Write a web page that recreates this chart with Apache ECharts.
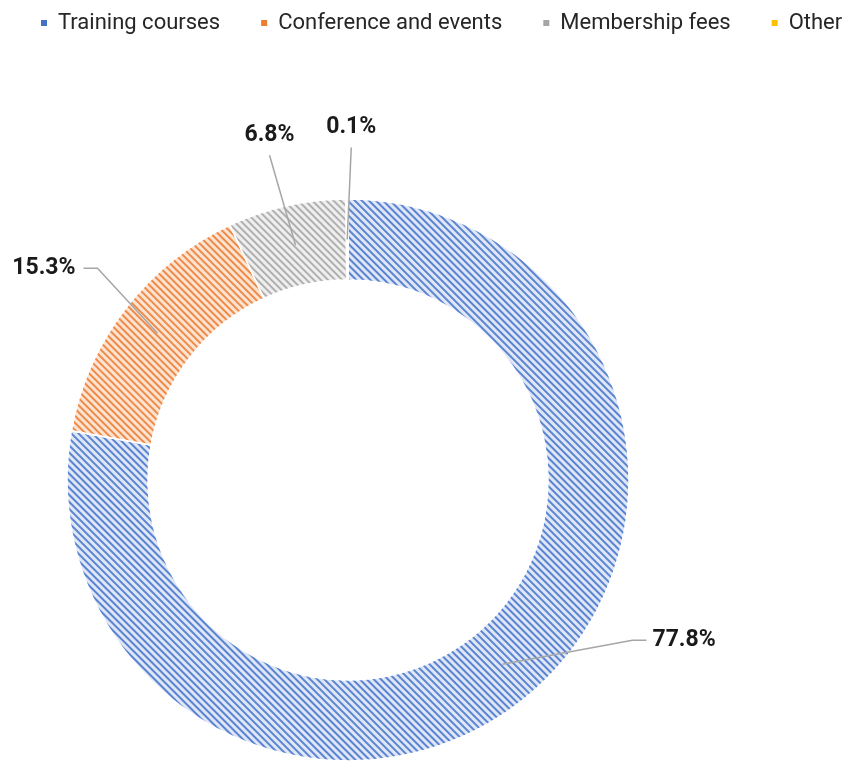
<!DOCTYPE html>
<html>
<head>
<meta charset="utf-8">
<script src="https://cdn.jsdelivr.net/npm/echarts@6/dist/echarts.min.js"></script>
<style>
  html, body { margin: 0; padding: 0; background: #fff; }
  #chart { width: 848px; height: 763px; }
</style>
</head>
<body>
<div id="chart"></div>
<script>
// data
const categories = ['Training courses', 'Conference and events', 'Membership fees', 'Other'];
const shares = [77.8, 15.3, 6.8, 0.1];

// colours: main tone (legend / stripes) and light background of the hatch
const mainColors = ['#4472C4', '#ED7D31', '#A5A5A5', '#FFC000'];
const stripeColors = ['#5a84d2', '#f08a48', '#b0b0b0', '#FFC000'];
const lightColors = ['#dfe7f6', '#fce4d3', '#efefef', '#ffe9a6'];

// ring geometry
const CX = 348, CY = 480;
const R_IN = 200, R_OUT = 281;
const R_MID = (R_IN + R_OUT) / 2;

// where each label sits relative to its slice anchor, and how the leader bends
const labelPlace = [
  { dx: 150, dy: -24, align: 'left', elbow: [-20, 0], end: [-6, 0] },
  { dx: -82, dy: -65, align: 'right', elbow: [22, 0], end: [8, 0] },
  { dx: -26, dy: -110, align: 'center', elbow: [0, 20], end: [0, 20] },
  { dx: 4, dy: -112, align: 'center', elbow: [0, 20], end: [0, 20] }
];

const FONT = 'Roboto, "Liberation Sans", sans-serif';

const total = shares.reduce((a, b) => a + b, 0);

function anchorOf(i) {
  let before = 0;
  for (let k = 0; k < i; k++) before += shares[k];
  const ang = (before + shares[i] / 2) / total * Math.PI * 2;
  return [CX + R_MID * Math.sin(ang), CY - R_MID * Math.cos(ang)];
}

const chart = echarts.init(document.getElementById('chart'));

const option = {
  backgroundColor: '#ffffff',
  animation: false,
  legend: {
    left: 39,
    top: 12,
    padding: 0,
    itemWidth: 8,
    itemHeight: 8,
    itemGap: 39,
    icon: 'rect',
    textStyle: {
      fontFamily: FONT,
      fontSize: 22,
      color: '#262626',
      padding: [0, 0, 0, 5]
    },
    data: categories.map((name, i) => ({
      name: name,
      itemStyle: { color: mainColors[i], decal: 'none' }
    }))
  },
  series: [
    {
      // the hatched ring
      type: 'pie',
      z: 2,
      center: [CX, CY],
      radius: [R_IN, R_OUT],
      startAngle: 90,
      clockwise: true,
      silent: true,
      label: { show: false },
      labelLine: { show: false },
      itemStyle: {
        borderColor: '#ffffff',
        borderWidth: 1.5
      },
      data: categories.map((name, i) => ({
        name: name,
        value: shares[i],
        itemStyle: {
          color: lightColors[i],
          decal: {
            symbol: 'rect',
            symbolSize: 1,
            color: stripeColors[i],
            dashArrayX: [1, 0],
            dashArrayY: [2, 3],
            rotation: Math.PI / 4
          }
        }
      }))
    },
    {
      // same slices, transparent, carrying labels and leader lines on top
      type: 'pie',
      z: 5,
      center: [CX, CY],
      radius: [R_IN, R_OUT],
      startAngle: 90,
      clockwise: true,
      silent: true,
      avoidLabelOverlap: false,
      itemStyle: { color: 'rgba(0,0,0,0)', borderWidth: 0 },
      label: {
        show: true,
        position: 'outside',
        formatter: p => p.value.toFixed(1) + '%',
        fontFamily: FONT,
        fontWeight: 'bold',
        fontSize: 23,
        color: '#1a1a1a'
      },
      labelLine: {
        show: true,
        lineStyle: { color: '#a6a6a6', width: 1.5 }
      },
      labelLayout: function (params) {
        const i = params.dataIndex;
        const a = anchorOf(i);
        const p = labelPlace[i];
        const lx = a[0] + p.dx, ly = a[1] + p.dy;
        return {
          x: lx,
          y: ly,
          align: p.align,
          verticalAlign: 'middle',
          labelLinePoints: [
            a,
            [lx + p.elbow[0], ly + p.elbow[1]],
            [lx + p.end[0], ly + p.end[1]]
          ]
        };
      },
      data: categories.map((name, i) => ({ name: name, value: shares[i] }))
    }
  ]
};

chart.setOption(option);
</script>
</body>
</html>
